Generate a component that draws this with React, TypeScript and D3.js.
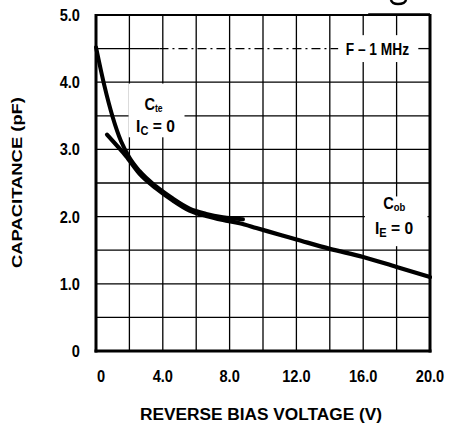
import React from 'react';
import * as d3 from 'd3';

// Reverse bias voltage (V) vs capacitance (pF)
const cteVolts = [0, 0.5, 1, 1.5, 2, 2.6, 3.6, 4.6, 5.6, 6.6, 7.6, 8.8];
const cteCap = [4.52, 3.95, 3.48, 3.12, 2.88, 2.68, 2.45, 2.27, 2.12, 2.04, 1.99, 1.96];

const cobVolts = [0.66, 1.2, 1.8, 2.6, 3.6, 4.6, 5.6, 6.6, 7.6, 8.6, 9.6, 11, 12, 14, 16, 18, 20];
const cobCap = [3.22, 3.07, 2.9, 2.64, 2.42, 2.24, 2.09, 2.01, 1.95, 1.9, 1.83, 1.73, 1.66, 1.52, 1.4, 1.25, 1.1];

const xTicks = [0, 4, 8, 12, 16, 20];
const xTickLabels = ['0', '4.0', '8.0', '12.0', '16.0', '20.0'];
const yTicks = [0, 1, 2, 3, 4, 5];
const yTickLabels = ['0', '1.0', '2.0', '3.0', '4.0', '5.0'];
const xGrid = [2, 4, 6, 8, 10, 12, 14, 16, 18];
const yGrid = [0.5, 1, 1.5, 2, 2.5, 3, 3.5, 4];

const font = "'Liberation Sans', Arial, sans-serif";

// narrow bold text (the datasheet face is condensed)
const NT = ({ x, y, size, anchor = 'start', sx = 0.86, children }: any) => (
  <text transform={`translate(${x},${y}) scale(${sx},1)`} fontSize={size} textAnchor={anchor}>{children}</text>
);

const App = () => {
  const width = 449;
  const height = 427;
  const left = 96, right = 430, top = 15, bottom = 351;

  const x = d3.scaleLinear().domain([0, 20]).range([left, right]);
  const y = d3.scaleLinear().domain([0, 5]).range([bottom, top]);

  const line = d3.line<[number, number]>()
    .x(d => x(d[0]))
    .y(d => y(d[1]))
    .curve(d3.curveMonotoneX);

  const ctePts = cteVolts.map((v, i) => [v, cteCap[i]] as [number, number]);
  const cobPts = cobVolts.map((v, i) => [v, cobCap[i]] as [number, number]);

  return (
    <svg width={width} height={height} style={{ display: 'block', position: 'absolute', left: 0, top: 0 }}>
      <rect width={width} height={height} fill="#fff" />

      {/* grid */}
      {xGrid.map(v => (
        <line key={'x' + v} x1={x(v)} x2={x(v)} y1={top} y2={bottom} stroke="#000" strokeWidth={1.3} />
      ))}
      {yGrid.map(v => (
        <line key={'y' + v} x1={left} x2={right} y1={y(v)} y2={y(v)} stroke="#000" strokeWidth={1.3} />
      ))}
      {/* dash-dot line at 4.5 pF */}
      <line x1={left} x2={x(3.8)} y1={y(4.5)} y2={y(4.5)} stroke="#000" strokeWidth={1.3} />
      <line x1={x(3.8)} x2={x(14.5)} y1={y(4.5)} y2={y(4.5)} stroke="#000" strokeWidth={1.3} strokeDasharray="9,4,2,4" />
      <line x1={x(19.2)} x2={right} y1={y(4.5)} y2={y(4.5)} stroke="#000" strokeWidth={1.3} />

      {/* label backgrounds */}
      <rect x={x(14.7)} y={y(4.7)} width={x(19.3) - x(14.7)} height={y(4.3) - y(4.7)} fill="#fff" />
      <rect x={x(1.95)} y={y(3.98)} width={x(5.3) - x(1.95)} height={y(3.18) - y(3.98)} fill="#fff" />
      <rect x={x(16.1)} y={y(2.3)} width={x(19.85) - x(16.1)} height={y(1.56) - y(2.3)} fill="#fff" />

      {/* curves */}
      <path d={line(ctePts) ?? ''} fill="none" stroke="#000" strokeWidth={4} strokeLinecap="round" />
      <path d={line(cobPts) ?? ''} fill="none" stroke="#000" strokeWidth={4.2} strokeLinecap="round" />

      {/* frame */}
      <line x1={left} x2={right} y1={top} y2={top} stroke="#000" strokeWidth={1.8} />
      <line x1={x(16.3)} x2={right} y1={top - 0.5} y2={top - 0.5} stroke="#000" strokeWidth={2.6} />
      <line x1={left} x2={left} y1={top - 1} y2={bottom + 1.5} stroke="#000" strokeWidth={3} />
      <line x1={right} x2={right} y1={top - 1} y2={bottom + 1.5} stroke="#000" strokeWidth={3} />
      <line x1={left - 1.5} x2={right + 1.5} y1={bottom} y2={bottom} stroke="#000" strokeWidth={3} />

      {/* fragment of a glyph cut by the top edge */}
      <path d="M391,0 Q392,4 398,4 Q405,4 406,0" fill="none" stroke="#000" strokeWidth={2.5} />

      <g fontFamily={font} fontWeight="bold" fill="#000">
        {/* annotations */}
        <NT x={x(14.95)} y={y(4.5) + 6} size={16}>F – 1 MHz</NT>
        <NT x={x(2.9)} y={y(3.6) + 0.5} size={17}>C<tspan fontSize={10} dy={2}>te</tspan></NT>
        <NT x={x(2.4)} y={y(3.27) + 1} size={17} sx={0.92}>I<tspan fontSize={12} dy={3}>C</tspan><tspan dy={-3}> = 0</tspan></NT>
        <NT x={x(17.2)} y={y(2.13) + 1} size={17}>C<tspan fontSize={11} dy={2}>ob</tspan></NT>
        <NT x={x(16.7)} y={y(1.75) + 1} size={17} sx={0.92}>I<tspan fontSize={12} dy={3}>E</tspan><tspan dy={-3}> = 0</tspan></NT>

        {/* y ticks */}
        {yTicks.map((v, i) => (
          <NT key={v} x={80} y={y(v) + 6} size={17} anchor="end">{yTickLabels[i]}</NT>
        ))}
        {/* x ticks */}
        {xTicks.map((v, i) => (
          <NT key={v} x={x(v) + (i === 0 ? 5 : 0)} y={382} size={17} anchor="middle">{xTickLabels[i]}</NT>
        ))}

        <text x={140} y={420} fontSize={16} textLength={242} lengthAdjust="spacingAndGlyphs">REVERSE BIAS VOLTAGE (V)</text>
        <text transform="translate(22,268) rotate(-90)" fontSize={15} textLength={171} lengthAdjust="spacingAndGlyphs">CAPACITANCE (pF)</text>
      </g>
    </svg>
  );
};

export default App;
